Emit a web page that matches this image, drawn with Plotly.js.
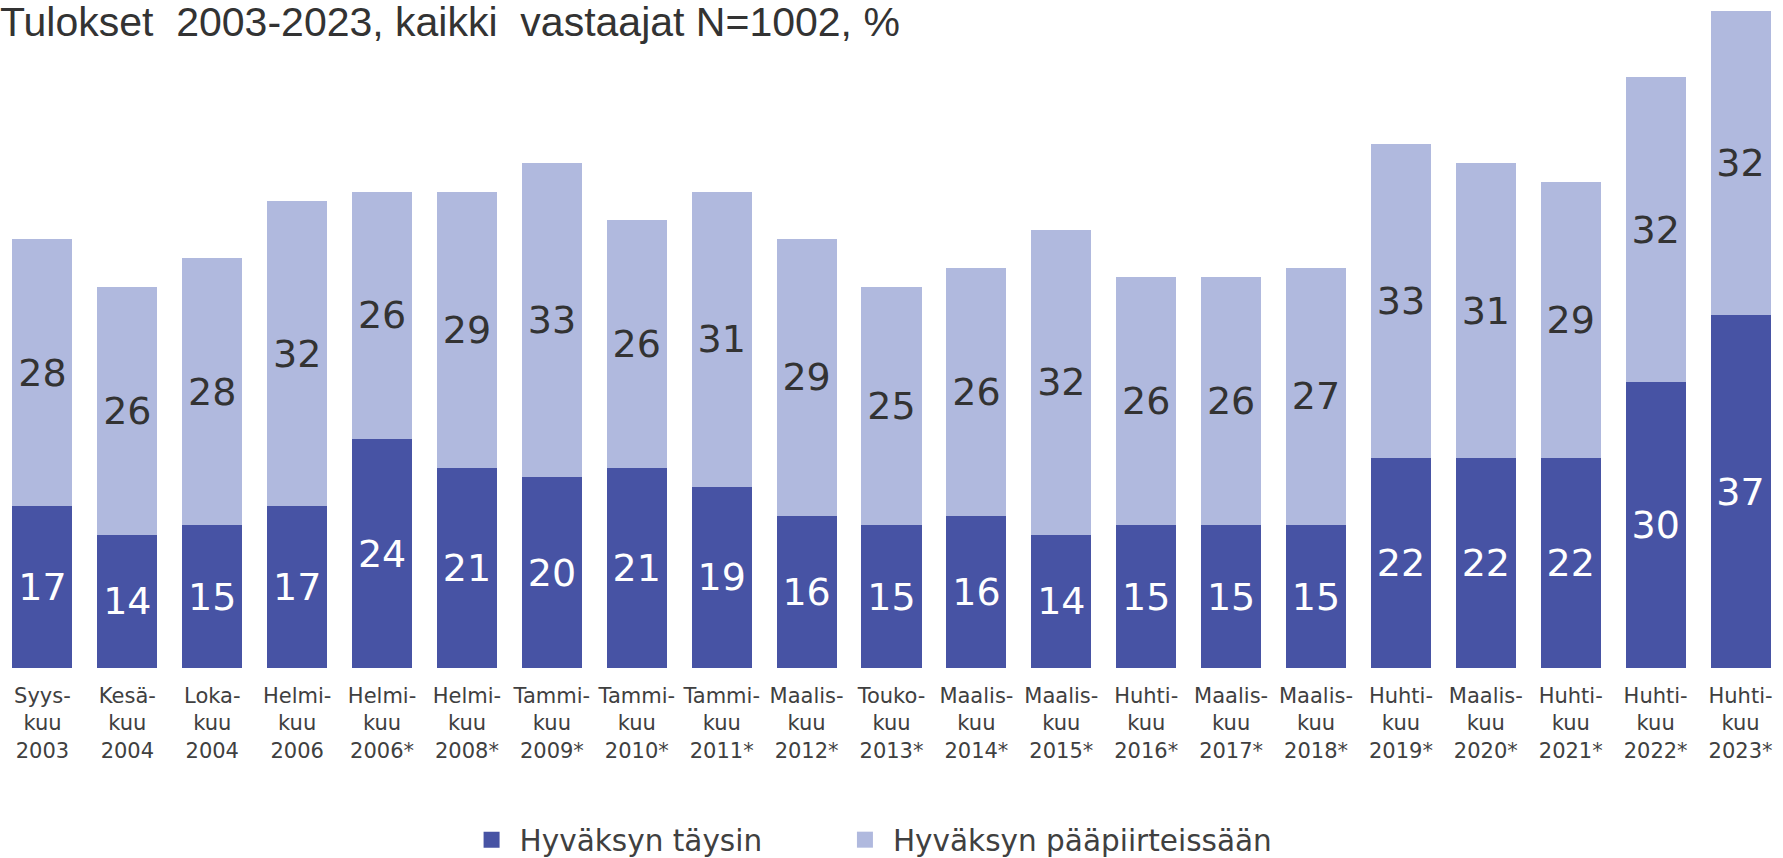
<!DOCTYPE html>
<html>
<head>
<meta charset="utf-8">
<script src="https://cdn.plot.ly/plotly-3.0.1.min.js"></script>
<style>html,body{margin:0;padding:0;background:#fff;}#chart{width:1783px;height:858px;}</style>
</head>
<body>
<div id="chart"></div>
<script>
const categories = [
  "Syys-<br>kuu<br>2003", "Kesä-<br>kuu<br>2004", "Loka-<br>kuu<br>2004", "Helmi-<br>kuu<br>2006",
  "Helmi-<br>kuu<br>2006*", "Helmi-<br>kuu<br>2008*", "Tammi-<br>kuu<br>2009*", "Tammi-<br>kuu<br>2010*",
  "Tammi-<br>kuu<br>2011*", "Maalis-<br>kuu<br>2012*", "Touko-<br>kuu<br>2013*", "Maalis-<br>kuu<br>2014*",
  "Maalis-<br>kuu<br>2015*", "Huhti-<br>kuu<br>2016*", "Maalis-<br>kuu<br>2017*", "Maalis-<br>kuu<br>2018*",
  "Huhti-<br>kuu<br>2019*", "Maalis-<br>kuu<br>2020*", "Huhti-<br>kuu<br>2021*", "Huhti-<br>kuu<br>2022*",
  "Huhti-<br>kuu<br>2023*"
];
const seriesNames = ["Hyväksyn täysin", "Hyväksyn pääpiirteissään"];
const fullyAgree = [17, 14, 15, 17, 24, 21, 20, 21, 19, 16, 15, 16, 14, 15, 15, 15, 22, 22, 22, 30, 37];
const mostlyAgree = [28, 26, 28, 32, 26, 29, 33, 26, 31, 29, 25, 26, 32, 26, 26, 27, 33, 31, 29, 32, 32];
const titleText = "Tulokset\u00A0 2003-2023, kaikki\u00A0 vastaajat N=1002, %";

const darkColor = "#4753A4";
const lightColor = "#B0B9DE";
const labelFont = "DejaVu Sans, Verdana, sans-serif";

const traces = [
  {
    type: "bar", x: categories, y: fullyAgree, name: seriesNames[0],
    marker: {color: darkColor}, showlegend: false,
    text: fullyAgree.map(String), textposition: "inside", insidetextanchor: "middle",
    textangle: 0, textfont: {family: labelFont, size: 38, color: "#ffffff"},
    hoverinfo: "skip"
  },
  {
    type: "bar", x: categories, y: mostlyAgree, name: seriesNames[1],
    marker: {color: lightColor}, showlegend: false,
    text: mostlyAgree.map(String), textposition: "inside", insidetextanchor: "middle",
    textangle: 0, textfont: {family: labelFont, size: 38, color: "#333333"},
    hoverinfo: "skip"
  },
  {
    type: "scatter", mode: "markers", x: [null], y: [null], name: seriesNames[0],
    marker: {symbol: "square", size: 16, color: darkColor}, showlegend: true, hoverinfo: "skip",
    legend: "legend"
  },
  {
    type: "scatter", mode: "markers", x: [null], y: [null], name: seriesNames[1],
    marker: {symbol: "square", size: 16, color: lightColor}, showlegend: true, hoverinfo: "skip",
    legend: "legend2"
  }
];

const legendCommon = {
  orientation: "h", xanchor: "left", xref: "paper",
  y: 18 / 858, yref: "container", yanchor: "middle",
  font: {family: labelFont, size: 29.5, color: "#404040"},
  itemwidth: 46, bgcolor: "rgba(0,0,0,0)", borderwidth: 0,
  itemclick: false, itemdoubleclick: false
};

const layout = {
  width: 1783, height: 858,
  margin: {l: 0, r: 0, t: 1, b: 190, pad: 0},
  paper_bgcolor: "#ffffff", plot_bgcolor: "#ffffff",
  barmode: "stack", bargap: 0.293,
  uniformtext: {mode: false},
  title: {
    text: titleText, x: 0, xref: "container", xanchor: "left",
    y: 1, yref: "container", yanchor: "top", pad: {t: 7, l: 0},
    font: {family: "Liberation Sans, Arial, sans-serif", size: 41, color: "#333333"}
  },
  xaxis: {
    type: "category", showgrid: false, zeroline: false, showline: false, ticks: "",
    tickfont: {family: labelFont, size: 21, color: "#404040"}, tickangle: 0,
    ticklabelstandoff: 13, fixedrange: true
  },
  yaxis: {
    range: [0, 70], visible: false, showgrid: false, zeroline: false, fixedrange: true
  },
  showlegend: true,
  legend: Object.assign({}, legendCommon, {x: 0.26}),
  legend2: Object.assign({}, legendCommon, {x: 0.4694}),
  hovermode: false
};

Plotly.newPlot("chart", traces, layout, {displayModeBar: false, staticPlot: true});
</script>
</body>
</html>
